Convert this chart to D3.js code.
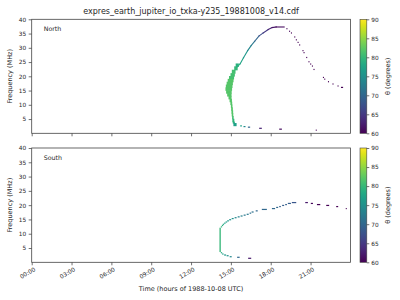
<!DOCTYPE html>
<html>
<head>
<meta charset="utf-8">
<script src="https://cdn.jsdelivr.net/npm/d3@7"></script>
<style>
  body { margin: 0; background: #fff; }
  svg text { font-family: "DejaVu Sans", sans-serif; fill: #262626; }
</style>
</head>
<body>
<div id="chart"></div>
<script>
// ---- data (time in hours of 1988-10-08 UTC, frequency in MHz, theta in degrees)
const title = 'expres_earth_jupiter_io_txka-y235_19881008_v14.cdf';
const timeTicks = [0, 3, 6, 9, 12, 15, 18, 21];
const freqTicks = [5, 10, 15, 20, 25, 30, 35, 40];
const thetaTicks = [60, 65, 70, 75, 80, 85, 90];

// North: filled emission region (one row per frequency band)
const northBlockF0 = [21, 20, 19, 18, 17, 16, 15, 14, 13, 12, 11, 10, 9, 8, 7, 6, 5, 4, 3.5, 2.6, 22.2, 23.4];
const northBlockF1 = [22.2, 21, 20, 19, 18, 17, 16, 15, 14, 13, 12, 11, 10, 9, 8, 7, 6, 5, 4, 3.5, 23.4, 24.4];
const northBlockT0 = [15.07, 14.97, 14.86, 14.76, 14.68, 14.62, 14.59, 14.64, 14.72, 14.82, 14.90, 14.96, 15.00, 15.02, 15.04, 15.06, 15.09, 15.11, 15.14, 15.19, 15.25, 15.36];
const northBlockT1 = [15.35, 15.30, 15.24, 15.20, 15.15, 15.12, 15.09, 15.06, 15.05, 15.05, 15.08, 15.10, 15.12, 15.15, 15.17, 15.18, 15.21, 15.26, 15.30, 15.43, 15.51, 15.60];
const northBlockTheta = [81, 81, 81, 82, 82, 82, 82, 82, 82, 82, 82, 82, 82, 82, 82, 82, 81, 80, 79, 77, 80, 79];

// North: rising branch
const northRiseT = [15.45, 15.70, 15.95, 16.26, 16.53, 16.79, 17.13, 17.43, 17.81, 18.11, 18.41, 19.01];
const northRiseF = [23.2, 24.4, 26.5, 29.0, 30.8, 32.3, 34.2, 35.2, 36.4, 37.1, 37.3, 37.3];
const northRiseTheta = [80, 78, 77, 75, 73, 71, 68, 66, 64, 62, 61, 61];

// North: isolated cells (descending branch and low-frequency tail)
const northDotT0 = [19.18, 19.38, 19.52, 19.77, 19.89, 20.02, 20.14, 20.39, 20.47, 20.67, 20.84, 20.97, 21.10, 21.22, 21.93, 22.03, 22.31, 22.65, 23.03, 23.29,
                    15.70, 15.95, 16.28, 17.13, 18.64, 21.39];
const northDotT1 = [19.26, 19.46, 19.60, 19.85, 19.97, 20.10, 20.22, 20.47, 20.55, 20.75, 20.92, 21.05, 21.18, 21.30, 22.01, 22.11, 22.39, 22.73, 23.11, 23.45,
                    15.83, 16.10, 16.45, 17.33, 18.84, 21.46];
const northDotF = [36.7, 35.8, 35.2, 33.8, 32.8, 31.9, 31.0, 29.0, 28.3, 26.6, 25.1, 24.3, 23.6, 22.4, 19.6, 19.0, 18.1, 17.3, 16.6, 16.1,
                   2.6, 2.35, 2.15, 1.75, 1.45, 1.1];
const northDotTheta = [60.5, 60.5, 60, 60, 60, 60, 60, 60, 60, 60, 60, 60, 60, 60, 60, 60, 60, 60, 60, 60,
                       77, 74, 70, 63, 61, 60];

// South: vertical emission strip
const southBlockF0 = [3.7];
const southBlockF1 = [12.0];
const southBlockT0 = [14.14];
const southBlockT1 = [14.24];
const southBlockTheta = [80];

// South: isolated cells
const southDotT0 = [14.24, 14.34, 14.49, 14.68, 14.91, 15.47, 16.30,
                    14.24, 14.32, 14.39, 14.49, 14.60, 14.72, 14.87, 15.06, 15.28, 15.51, 15.73, 15.96, 16.19, 16.41, 16.56, 16.87,
                    17.33, 18.09, 18.41, 18.64, 18.86, 19.09, 19.29, 19.59, 20.60, 21.02, 21.48, 22.18, 22.93, 23.65];
const southDotT1 = [14.34, 14.45, 14.64, 14.83, 15.06, 15.66, 16.53,
                    14.34, 14.42, 14.49, 14.60, 14.72, 14.85, 15.02, 15.21, 15.43, 15.66, 15.88, 16.11, 16.34, 16.53, 16.71, 17.02,
                    17.71, 18.33, 18.56, 18.76, 19.01, 19.22, 19.52, 19.92, 20.80, 21.18, 21.73, 22.40, 23.08, 23.72];
const southDotF = [3.35, 2.9, 2.55, 2.3, 1.95, 1.75, 1.4,
                   12.4, 12.9, 13.3, 13.7, 14.1, 14.5, 14.9, 15.3, 15.6, 15.9, 16.2, 16.5, 16.8, 17.2, 17.6, 18.0,
                   18.5, 18.8, 19.2, 19.5, 19.9, 20.2, 20.6, 20.9, 20.9, 20.6, 20.2, 19.9, 19.5, 18.8];
const southDotTheta = [78, 77, 76, 75, 74, 70, 62,
                       79, 79, 78, 77, 77, 76, 75, 75, 74, 73, 73, 72, 72, 71, 71, 70,
                       70, 70, 70, 69, 69, 69, 69, 68, 62, 60.5, 60, 60, 60, 60];

// ---- layout
const width = 400, height = 300;
const svg = d3.select('#chart').append('svg')
    .attr('width', width)
    .attr('height', height)
    .attr('viewBox', [0, 0, width, height]);

const x = d3.scaleLinear().domain([0, 24]).range([31.7, 350.4]);
const color = d3.scaleSequential(d3.interpolateViridis).domain([60, 90]);

const panels = [
    {
        label: 'North', top: 19.3, bottom: 133.3, showX: false,
        blocks: d3.range(northBlockF0.length).map(i => ({t0: northBlockT0[i], t1: northBlockT1[i], f0: northBlockF0[i], f1: northBlockF1[i], th: northBlockTheta[i]})),
        rise: northRiseT.map((t, i) => ({t, f: northRiseF[i], th: northRiseTheta[i]})),
        dots: northDotT0.map((t0, i) => ({t0, t1: northDotT1[i], f: northDotF[i], th: northDotTheta[i]}))
    },
    {
        label: 'South', top: 148, bottom: 262.3, showX: true,
        blocks: southBlockF0.map((f0, i) => ({t0: southBlockT0[i], t1: southBlockT1[i], f0, f1: southBlockF1[i], th: southBlockTheta[i]})),
        rise: [],
        dots: southDotT0.map((t0, i) => ({t0, t1: southDotT1[i], f: southDotF[i], th: southDotTheta[i]}))
    }
];

const fmtHour = h => String(h).padStart(2, '0') + ':00';

// viridis gradient for colorbars
const defs = svg.append('defs');
const grad = defs.append('linearGradient')
    .attr('id', 'viridis')
    .attr('x1', '0%').attr('x2', '0%')
    .attr('y1', '100%').attr('y2', '0%');
d3.range(0, 1.0001, 0.05).forEach(p => {
    grad.append('stop')
        .attr('offset', `${p * 100}%`)
        .attr('stop-color', d3.interpolateViridis(p));
});

panels.forEach(p => {
    const y = d3.scaleLinear().domain([0, 40]).range([p.bottom, p.top]);
    const g = svg.append('g');

    // emission blocks (slight overlap so rows don't show seams)
    g.selectAll('rect.block')
        .data(p.blocks)
        .join('rect')
        .attr('class', 'block')
        .attr('x', d => x(d.t0))
        .attr('width', d => x(d.t1) - x(d.t0))
        .attr('y', d => y(d.f1) - 0.3)
        .attr('height', d => y(d.f0) - y(d.f1) + 0.6)
        .attr('fill', d => color(d.th));

    // continuous branch
    const segs = d3.pairs(p.rise);
    g.selectAll('line.rise')
        .data(segs)
        .join('line')
        .attr('class', 'rise')
        .attr('x1', d => x(d[0].t)).attr('y1', d => y(d[0].f))
        .attr('x2', d => x(d[1].t)).attr('y2', d => y(d[1].f))
        .attr('stroke', d => color((d[0].th + d[1].th) / 2))
        .attr('stroke-width', 1.1)
        .attr('stroke-linecap', 'square');

    // isolated cells
    g.selectAll('rect.dot')
        .data(p.dots)
        .join('rect')
        .attr('class', 'dot')
        .attr('x', d => x(d.t0))
        .attr('width', d => Math.max(1, x(d.t1) - x(d.t0)))
        .attr('y', d => y(d.f) - 0.6)
        .attr('height', 1.2)
        .attr('fill', d => color(d.th));

    // y axis
    const ya = g.append('g')
        .attr('transform', `translate(${x.range()[0]},0)`)
        .call(d3.axisLeft(y).tickValues(freqTicks).tickSize(3).tickPadding(2.5));
    ya.select('.domain').remove();
    ya.selectAll('line').attr('stroke', '#333').attr('stroke-width', 0.7);
    ya.selectAll('text').style('font-size', '5.8px').attr('fill', '#262626');

    // x axis
    const xa = g.append('g')
        .attr('transform', `translate(0,${p.bottom})`)
        .call(d3.axisBottom(x).tickValues(timeTicks).tickSize(3).tickFormat(p.showX ? fmtHour : ''));
    xa.select('.domain').remove();
    xa.selectAll('line').attr('stroke', '#333').attr('stroke-width', 0.7);
    if (p.showX) {
        xa.selectAll('text')
            .style('font-size', '5.8px')
            .attr('fill', '#262626')
            .attr('text-anchor', 'end')
            .attr('y', 0)
            .attr('dy', '0.75em')
            .attr('transform', 'translate(1.5,4.5) rotate(-30)');
    }

    // frame
    g.append('rect')
        .attr('x', x.range()[0])
        .attr('y', p.top)
        .attr('width', x.range()[1] - x.range()[0])
        .attr('height', p.bottom - p.top)
        .attr('fill', 'none')
        .attr('stroke', '#444')
        .attr('stroke-width', 0.8);

    // panel label
    g.append('text')
        .attr('x', 43.7)
        .attr('y', p.top + 12)
        .style('font-size', '6.3px')
        .text(p.label);

    // y label
    g.append('text')
        .attr('transform', `translate(10,${(p.top + p.bottom) / 2}) rotate(-90)`)
        .attr('text-anchor', 'middle')
        .attr('dy', '0.35em')
        .style('font-size', '6.5px')
        .text('Frequency (MHz)');

    // colorbar
    const cbX = 360, cbW = 6.8;
    const cy = d3.scaleLinear().domain([60, 90]).range([p.bottom, p.top]);
    const cb = svg.append('g');
    cb.append('rect')
        .attr('x', cbX).attr('y', p.top)
        .attr('width', cbW).attr('height', p.bottom - p.top)
        .attr('fill', 'url(#viridis)')
        .attr('stroke', '#444')
        .attr('stroke-width', 0.6);
    const ca = cb.append('g')
        .attr('transform', `translate(${cbX + cbW},0)`)
        .call(d3.axisRight(cy).tickValues(thetaTicks).tickSize(2.5).tickPadding(2));
    ca.select('.domain').remove();
    ca.selectAll('line').attr('stroke', '#333').attr('stroke-width', 0.7);
    ca.selectAll('text').style('font-size', '5.8px').attr('fill', '#262626');
    cb.append('text')
        .attr('transform', `translate(388,${(p.top + p.bottom) / 2}) rotate(-90)`)
        .attr('text-anchor', 'middle')
        .attr('dy', '0.35em')
        .style('font-size', '6.5px')
        .text('θ (degrees)');
});

// title
svg.append('text')
    .attr('x', (x.range()[0] + x.range()[1]) / 2)
    .attr('y', 13.5)
    .attr('text-anchor', 'middle')
    .style('font-size', '8px')
    .text(title);

// x label
svg.append('text')
    .attr('x', (x.range()[0] + x.range()[1]) / 2)
    .attr('y', 290.5)
    .attr('text-anchor', 'middle')
    .style('font-size', '6.5px')
    .text('Time (hours of 1988-10-08 UTC)');
</script>
</body>
</html>
